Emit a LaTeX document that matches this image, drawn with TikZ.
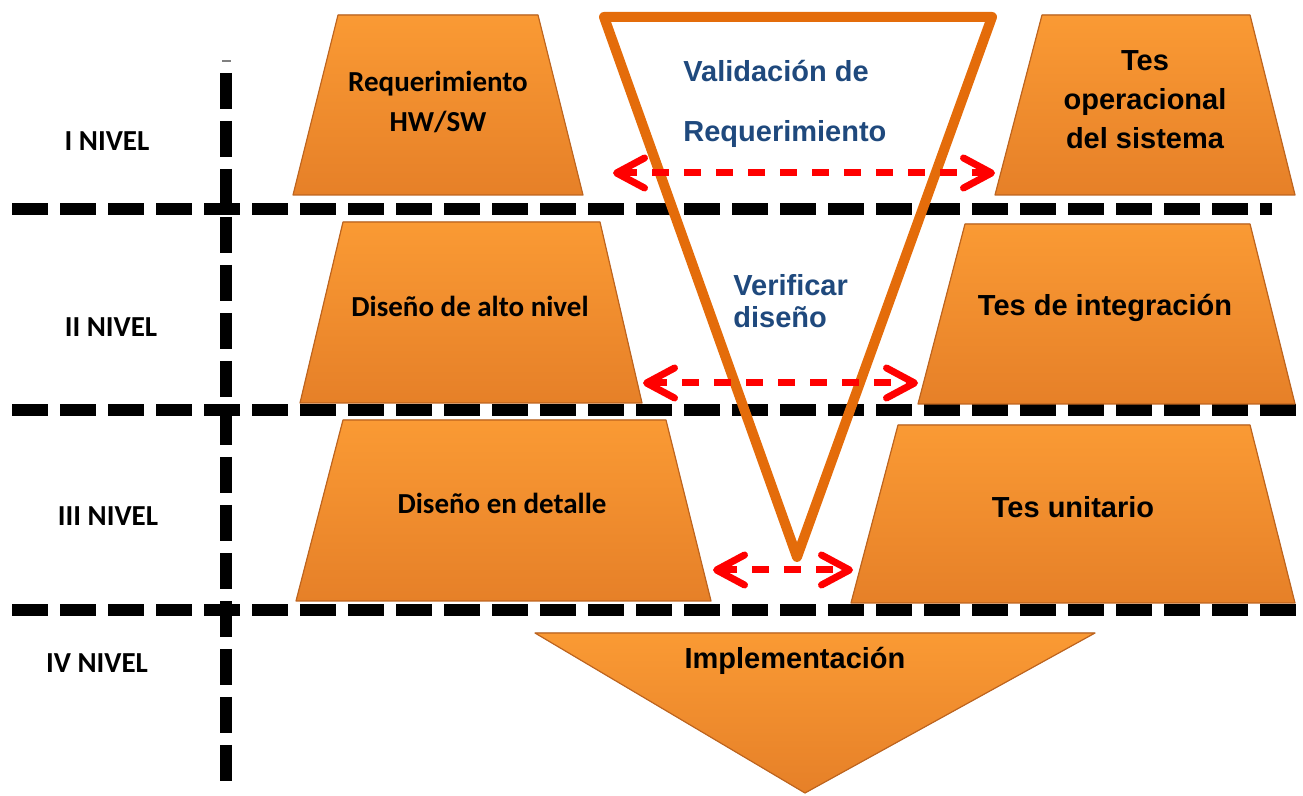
\documentclass[tikz,border=0pt]{standalone}
\usepackage{fontspec}
\setmainfont{Liberation Sans}
\newfontfamily\calibri{Carlito}
\usetikzlibrary{arrows.meta}
\definecolor{vorange}{RGB}{228,108,10}
\definecolor{boxtop}{RGB}{250,154,52}
\definecolor{boxbot}{RGB}{230,128,40}
\definecolor{boxedge}{RGB}{190,100,30}
\definecolor{valblue}{RGB}{31,73,125}

\begin{document}
\begin{tikzpicture}[x=0.5pt, y=-0.5pt,
    levelline/.style={line width=6pt, dash pattern=on 18pt off 6pt},
    trapbox/.style={top color=boxtop, bottom color=boxbot, draw=boxedge, line width=0.6pt, line join=round},
    arialtext/.style={font=\bfseries\fontsize{14.5}{19.5}\selectfont, align=center, inner sep=0pt},
    calibtext/.style={font=\calibri\bfseries\fontsize{14.5}{20}\selectfont, align=center, inner sep=0pt},
    bluetext/.style={font=\bfseries\fontsize{14.5}{30}\selectfont, text=valblue, align=left, inner sep=0pt, anchor=north west},
    dblarrow/.style={draw=red, line width=3.5pt, dash pattern=on 8.5pt off 7.5pt,
        {Straight Barb[round,length=14pt,width=15pt]}-{Straight Barb[round,length=14pt,width=15pt]}}]

    \useasboundingbox (0,0) rectangle (1303,796);

    % level lines
    \draw[levelline] (12,209) -- (1272,209);
    \draw[levelline] (12,410) -- (1303,410);
    \draw[levelline] (12,610) -- (1303,610);
    \draw[levelline] (226,73) -- (226,781);
    \draw[gray, line width=1pt] (222,61) -- (231,61);

    \node[calibtext] (lev1) at (107,141) {I NIVEL};
    \node[calibtext] (lev2) at (111,327) {II NIVEL};
    \node[calibtext] (lev3) at (108,516) {III NIVEL};
    \node[calibtext] (lev4) at (97,663) {IV NIVEL};

    % left side
    \filldraw[trapbox] (338,15) -- (538,15) -- (583,195) -- (293,195) -- cycle;
    \node[calibtext] (req) at (438,102) {Requerimiento\\HW/SW};

    \filldraw[trapbox] (343,222) -- (600,222) -- (642,403) -- (300,403) -- cycle;
    \node[calibtext] (alto) at (470,306) {Diseño de alto nivel};

    \filldraw[trapbox] (343,420) -- (666,420) -- (711,601) -- (296,601) -- cycle;
    \node[calibtext] (detalle) at (502,503) {Diseño en detalle};

    % right side
    \filldraw[trapbox] (1042,15) -- (1250,15) -- (1295,195) -- (995,195) -- cycle;
    \node[arialtext] (oper) at (1145,100) {Tes\\operacional\\del sistema};

    \filldraw[trapbox] (965,224) -- (1250,224) -- (1295,404) -- (918,404) -- cycle;
    \node[arialtext] (integ) at (1105,308) {Tes de integración};

    \filldraw[trapbox] (898,425) -- (1250,425) -- (1295,603) -- (851,603) -- cycle;
    \node[arialtext] (unit) at (1073,507) {Tes unitario};

    % bottom
    \filldraw[trapbox] (535,633) -- (1095,633) -- (805,793) -- cycle;
    \node[arialtext] (impl) at (795,661) {Implementación};

    % V
    \draw[vorange, line width=5pt, line join=round] (604,17) -- (992,17) -- (797,557) -- cycle;
    \node[bluetext] (valid) at (683,60) {Validación de\\Requerimiento};
    \node[bluetext, font=\bfseries\fontsize{14.5}{16}\selectfont] (verif) at (733,274) {Verificar\\diseño};

    \coordinate (v1l) at (613,173);
    \coordinate (v1r) at (995,173);
    \coordinate (v2l) at (643,383);
    \coordinate (v2r) at (918,383);
    \coordinate (v3l) at (713,570);
    \coordinate (v3r) at (853,570);
    \draw[dblarrow] (v1l) -- (v1r);
    \draw[dblarrow] (v2l) -- (v2r);
    \draw[dblarrow] (v3l) -- (v3r);
\end{tikzpicture}
\end{document}
